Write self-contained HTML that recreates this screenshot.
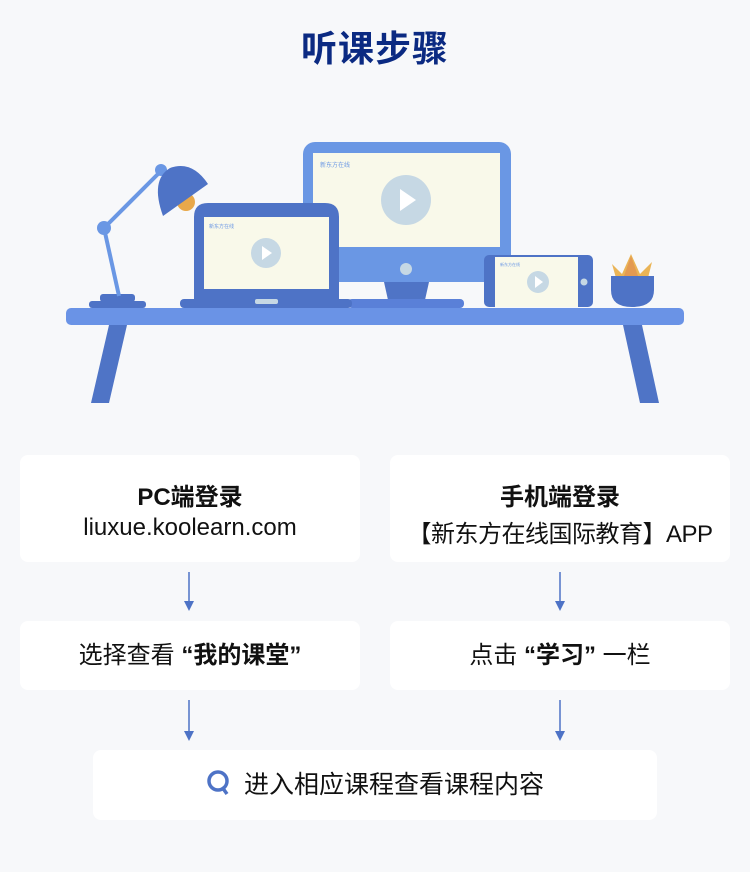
<!DOCTYPE html>
<html><head><meta charset="utf-8"><style>
body{margin:0;width:750px;height:872px;background:#f7f8fa;position:relative;overflow:hidden;font-family:"Liberation Sans","Noto Sans CJK SC",sans-serif;}
.t{position:absolute;left:0;width:750px;top:20px;text-align:center;font-size:36px;font-weight:bold;color:#0b2a82;letter-spacing:1px}
.c{position:absolute;background:#fff;border-radius:8px;text-align:center;color:#111}
.b{font-weight:bold;font-size:24px}
.n{font-size:24px}
</style></head><body>
<div class="t">听课步骤</div>
<svg width="750" height="420" style="position:absolute;left:0;top:0">
<polygon points="109,325 127,325 109,403 91,403" fill="#4f74c6"/>
<polygon points="623,325 642,325 659,403 640,403" fill="#4f74c6"/>
<rect x="303" y="142" width="208" height="140" rx="12" fill="#6a97e4"/>
<rect x="313" y="153" width="187" height="94" fill="#f9f9ea"/>
<text x="320" y="167" font-size="6" fill="#6a97e4" font-family="Liberation Sans,Noto Sans CJK SC,sans-serif">新东方在线</text>
<circle cx="406" cy="200" r="25" fill="#c6d8e4"/>
<polygon points="400,189 400,211 416,200" fill="#fff"/>
<circle cx="406" cy="269" r="6" fill="#c6d8e4"/>
<polygon points="384,282 429,282 425,300 388,300" fill="#4f74c6"/>
<rect x="348" y="299" width="116" height="9" rx="4" fill="#5a80d8"/>
<path d="M194,300 V217 Q194,203 208,203 H325 Q339,203 339,217 V300 Z" fill="#4e73c6"/>
<rect x="204" y="217" width="125" height="72" fill="#f9f9ea"/>
<text x="209" y="228" font-size="5" fill="#6a97e4" font-family="Liberation Sans,Noto Sans CJK SC,sans-serif">新东方在线</text>
<circle cx="266" cy="253" r="15" fill="#c6d8e4"/>
<polygon points="262,246 262,260 272,253" fill="#fff"/>
<rect x="180" y="299" width="172" height="9" rx="4" fill="#4e73c6"/>
<rect x="255" y="299" width="23" height="5" rx="2" fill="#c6d8e4"/>
<rect x="484" y="255" width="109" height="52" rx="5" fill="#4e73c6"/>
<rect x="495" y="257" width="83" height="50" fill="#f9f9ea"/>
<text x="500" y="266" font-size="4" fill="#6a97e4" font-family="Liberation Sans,Noto Sans CJK SC,sans-serif">新东方在线</text>
<circle cx="538" cy="282" r="11" fill="#c6d8e4"/>
<polygon points="535,276 535,288 543,282" fill="#fff"/>
<circle cx="584" cy="282" r="3.5" fill="#c6d8e4"/>
<path d="M612,264 L622,274 L631,254 L640,274 L652,262 L648,278 L616,278 Z" fill="#eab456"/>
<path d="M624,276 L631,256 L638,276 Z" fill="#e39a52"/>
<path d="M611,276 H654 V290 Q654,307 632,307 Q611,307 611,290 Z" fill="#4e73c6"/>
<rect x="89" y="301" width="57" height="7" rx="3" fill="#4e73c6"/>
<rect x="100" y="294" width="35" height="8" rx="3" fill="#4e73c6"/>
<line x1="119" y1="296" x2="104" y2="228" stroke="#6a97e4" stroke-width="4"/>
<line x1="104" y1="228" x2="161" y2="171" stroke="#6a97e4" stroke-width="4"/>
<circle cx="104" cy="228" r="7" fill="#6a97e4"/>
<circle cx="161" cy="170" r="6" fill="#6a97e4"/>
<circle cx="186" cy="202" r="9" fill="#e8a84a"/>
<path d="M163,216 Q150,180 170,168 Q192,160 208,184 Z" fill="#4e73c6"/>
<rect x="66" y="308" width="618" height="17" rx="5" fill="#6a93e6"/>
</svg>
<div class="c" style="left:20px;top:455px;width:340px;height:107px">
<div class="b" style="margin-top:22px">PC端登录</div>
<div class="n" style="margin-top:2px">liuxue.koolearn.com</div></div>
<div class="c" style="left:390px;top:455px;width:340px;height:107px">
<div class="b" style="margin-top:22px">手机端登录</div>
<div class="n" style="margin-top:2px;letter-spacing:-0.5px">【新东方在线国际教育】APP</div></div>
<div class="c n" style="left:20px;top:621px;width:340px;height:69px;line-height:69px">选择查看 <b>“我的课堂”</b></div>
<div class="c n" style="left:390px;top:621px;width:340px;height:69px;line-height:69px">点击 <b>“学习”</b> 一栏</div>
<div class="c" style="left:93px;top:750px;width:564px;height:70px;line-height:70px;font-size:25px">
<span style="display:inline-block;width:24px;height:26px;vertical-align:-4px;margin-right:14px"><svg width="26" height="28"><circle cx="12" cy="12" r="9" fill="none" stroke="#4e73c6" stroke-width="3.5"/><line x1="16" y1="18" x2="21" y2="25" stroke="#4e73c6" stroke-width="3.5"/></svg></span>进入相应课程查看课程内容</div>
<svg width="750" height="872" style="position:absolute;left:0;top:0;pointer-events:none">
<g stroke="#4e73c6" stroke-width="1.5"><line x1="189" y1="572" x2="189" y2="603"/><line x1="560" y1="572" x2="560" y2="603"/><line x1="189" y1="700" x2="189" y2="733"/><line x1="560" y1="700" x2="560" y2="733"/></g>
<g fill="#4e73c6"><polygon points="184,601 194,601 189,611"/><polygon points="555,601 565,601 560,611"/><polygon points="184,731 194,731 189,741"/><polygon points="555,731 565,731 560,741"/></g>
</svg>
</body></html>
